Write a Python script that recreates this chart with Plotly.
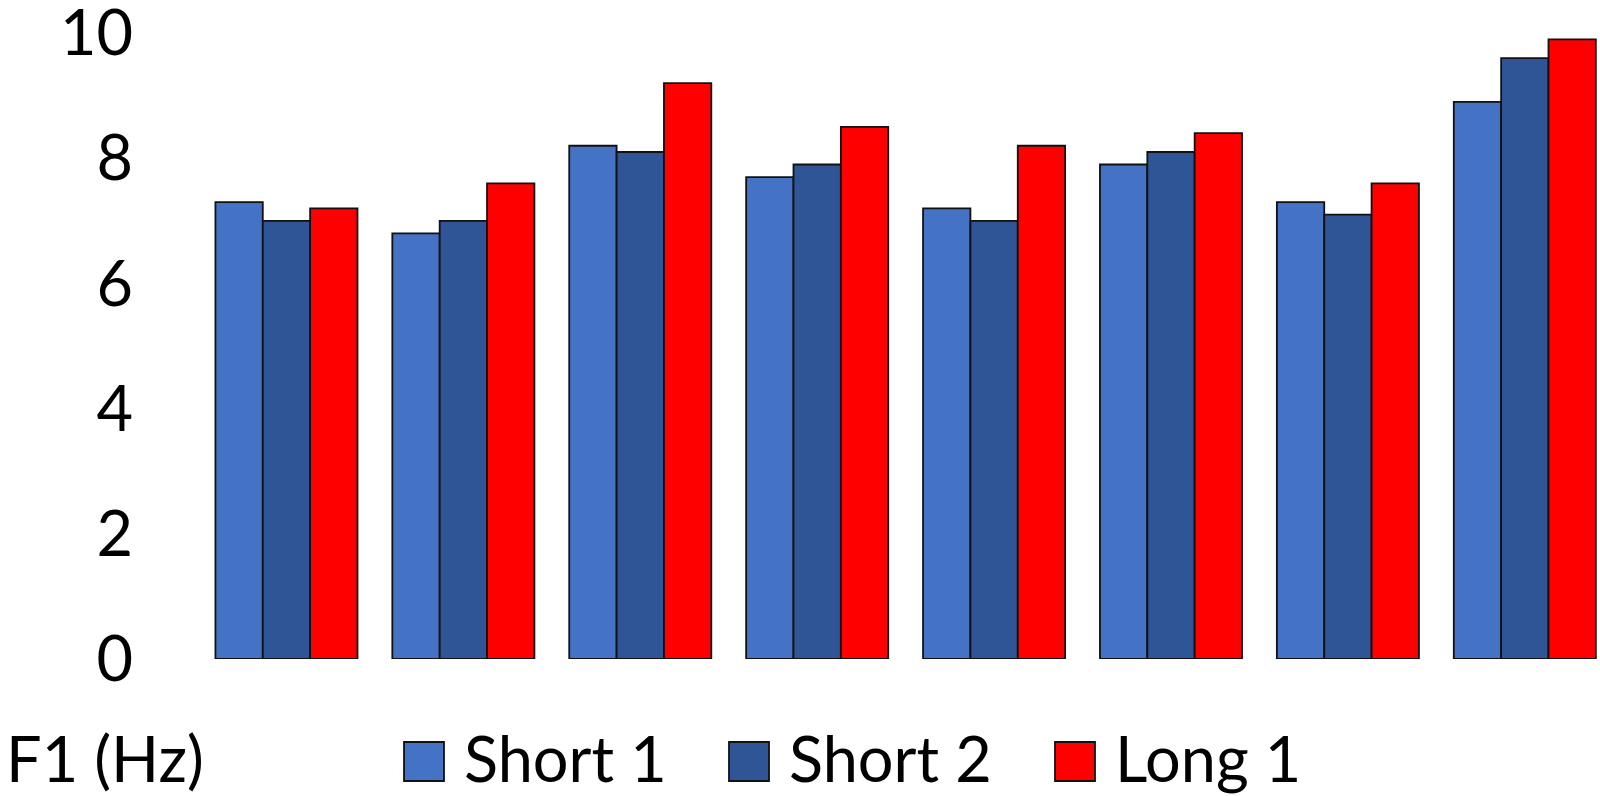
import plotly.graph_objects as go

# Eight vowel groups, three conditions each
groups = ["1", "2", "3", "4", "5", "6", "7", "8"]
short1 = [7.3, 6.8, 8.2, 7.7, 7.2, 7.9, 7.3, 8.9]
short2 = [7.0, 7.0, 8.1, 7.9, 7.0, 8.1, 7.1, 9.6]
long1 = [7.2, 7.6, 9.2, 8.5, 8.2, 8.4, 7.6, 9.9]
series_names = ["Short 1", "Short 2", "Long 1"]
series_colors = ["#4472C4", "#2F5597", "#FF0000"]
y_ticks = [0, 2, 4, 6, 8, 10]
axis_title = "F1 (Hz)"

W, H = 1600, 796
L, R, T, B = 198, 0, 33, 137
FONT = "Lato"
FS = 63


def px_x(p):
    return (p - L) / (W - L - R)


def px_y(p):
    return (H - B - p) / (H - T - B)


fig = go.Figure()
for name, vals, col in zip(series_names, [short1, short2, long1], series_colors):
    fig.add_trace(go.Bar(
        x=groups, y=vals, name=name,
        marker=dict(color=col, line=dict(color="#111111", width=1.8)),
        showlegend=False,
    ))

# Legend drawn below the plot: square swatches with labels
legend_left = [404, 729, 1055]
for x0, name, col in zip(legend_left, series_names, series_colors):
    fig.add_shape(type="rect", xref="paper", yref="paper",
                  x0=px_x(x0), x1=px_x(x0 + 40), y0=px_y(781), y1=px_y(742),
                  fillcolor=col, line=dict(color="#111111", width=1.8))
    fig.add_annotation(xref="paper", yref="paper", x=px_x(x0 + 58), y=px_y(758),
                       xanchor="left", yanchor="middle", showarrow=False,
                       text=name, font=dict(family=FONT, size=FS, color="#000000"))

fig.add_annotation(xref="paper", yref="paper", x=px_x(4), y=px_y(758),
                   xanchor="left", yanchor="middle", showarrow=False,
                   text=axis_title, font=dict(family=FONT, size=FS, color="#000000"))

fig.update_layout(
    width=W, height=H,
    margin=dict(l=L, r=R, t=T, b=B, pad=0),
    paper_bgcolor="white", plot_bgcolor="white",
    barmode="group", bargap=0.197, bargroupgap=0,
    font=dict(family=FONT, size=FS, color="#000000"),
    xaxis=dict(type="category", range=[-0.5, 7.425], showticklabels=False,
               showgrid=False, zeroline=False, showline=False, ticks="",
               automargin=False),
    yaxis=dict(range=[0, 10.001], tickvals=y_ticks, showgrid=False, zeroline=False,
               showline=False, ticks="", ticklabelstandoff=64,
               ticklabeloverflow="allow", automargin=False,
               tickfont=dict(family=FONT, size=FS, color="#000000")),
)

fig.write_html("out.html")
